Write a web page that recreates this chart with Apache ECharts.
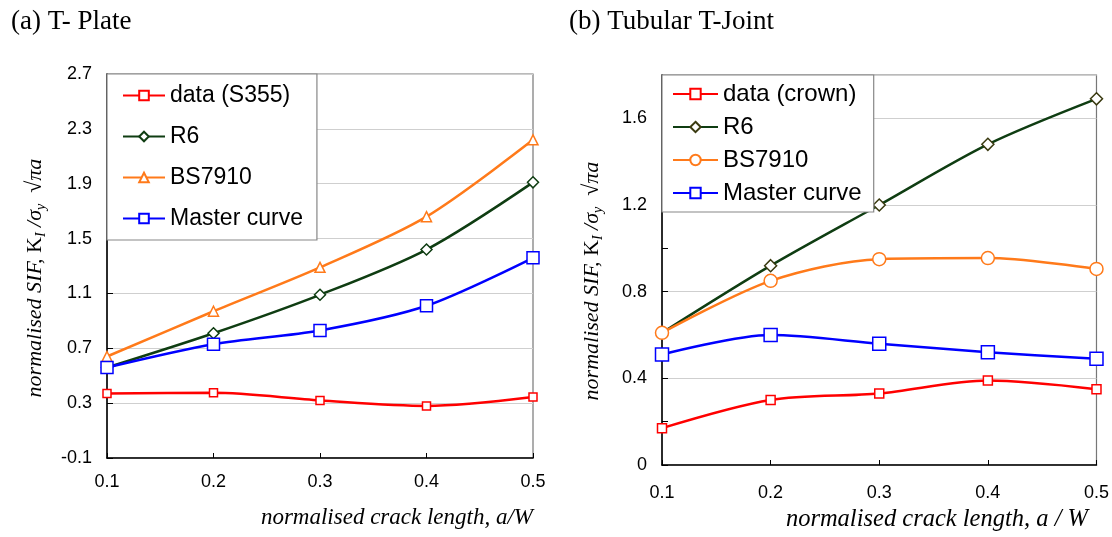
<!DOCTYPE html>
<html>
<head>
<meta charset="utf-8">
<script src="https://cdn.jsdelivr.net/npm/echarts@6/dist/echarts.min.js"></script>
<style>
html,body{margin:0;padding:0;background:#fff;}
#a,#b{position:absolute;top:0;width:556px;height:537px;}
#a{left:0;} #b{left:556px;}
</style>
</head>
<body>
<div id="a"></div>
<div id="b"></div>
<script>
// ---- data ----
const xValues = [0.1, 0.2, 0.3, 0.4, 0.5];

// (a) T- Plate
const plateData   = [0.37, 0.375, 0.32, 0.28, 0.345];
const plateR6     = [0.56, 0.81, 1.09, 1.42, 1.91];
const plateBS7910 = [0.64, 0.97, 1.29, 1.66, 2.22];
const plateMaster = [0.56, 0.73, 0.83, 1.01, 1.36];

// (b) Tubular T-Joint
const jointData   = [0.17, 0.30, 0.33, 0.39, 0.35];
const jointR6     = [0.61, 0.92, 1.20, 1.48, 1.69];
const jointBS7910 = [0.61, 0.85, 0.95, 0.955, 0.905];
const jointMaster = [0.51, 0.60, 0.56, 0.52, 0.49];

const plateNames = ['data (S355)', 'R6', 'BS7910', 'Master curve'];
const jointNames = ['data (crown)', 'R6', 'BS7910', 'Master curve'];

const RED = '#ff0000', GREEN = '#0f3d12', ORANGE = '#ff7a1a', BLUE = '#0000ff';

function pairs(ys) { return xValues.map((x, i) => [x, ys[i]]); }

function mkSeries(name, ys, color, symbol, size, border) {
  return {
    name: name, type: 'line', data: pairs(ys), smooth: 0.3,
    symbol: symbol, symbolSize: size, showAllSymbol: true,
    lineStyle: { color: color, width: 2.5 },
    itemStyle: { color: '#fff', borderColor: border || color, borderWidth: 1.5 },
    emphasis: { disabled: true }, z: 3
  };
}

const SERIF = '"Liberation Serif", "Times New Roman", serif';
const SANS = '"Liberation Sans", Arial, sans-serif';
const NARROW = '"Liberation Sans Narrow", "Arial Narrow", "Liberation Sans", sans-serif';

function yName() {
  return '{i|normalised SIF, }{k|K}{sub|I}{i| /}{s|σ}{sub|y}{i|  √}{s|πa}';
}
function yNameStyle(shift) {
  return {
    color: '#000', fontFamily: SERIF, fontSize: 22, padding: [0, shift, 0, 0],
    rich: {
      i: { fontStyle: 'italic', fontFamily: SERIF, fontSize: 22, color: '#000', lineHeight: 26 },
      k: { fontFamily: SERIF, fontSize: 22, color: '#000', lineHeight: 26 },
      s: { fontStyle: 'italic', fontFamily: SERIF, fontSize: 22, color: '#000', lineHeight: 26 },
      sub: { fontStyle: 'italic', fontFamily: SERIF, fontSize: 14, color: '#000', verticalAlign: 'bottom', lineHeight: 14, padding: [10, 0, 0, 0] }
    }
  };
}

function xAxisCfg(margin) {
  return {
    type: 'value', min: 0.1, max: 0.5, interval: 0.1,
    axisLine: { show: true, onZero: false, lineStyle: { color: '#000', width: 1.5 } },
    axisTick: { show: true, inside: true, length: 5, lineStyle: { color: '#000' } },
    axisLabel: { color: '#000', fontFamily: NARROW, fontSize: 18, margin: margin,
                 formatter: v => v.toFixed(1) },
    splitLine: { show: false }
  };
}

// ---- chart (a) ----
const chartA = echarts.init(document.getElementById('a'), null, { renderer: 'canvas' });
chartA.setOption({
  animation: false,
  backgroundColor: '#fff',
  title: { text: '(a) T- Plate', left: 6, top: 3,
           textStyle: { fontFamily: SERIF, fontSize: 27, fontWeight: 'normal', color: '#000' } },
  grid: { left: 107, top: 74, width: 426, height: 384, show: true, borderColor: '#777', borderWidth: 1.2, backgroundColor: 'transparent' },
  xAxis: xAxisCfg(15),
  yAxis: {
    type: 'value', min: -0.1, max: 2.7, interval: 0.4,
    name: yName(), nameLocation: 'middle', nameRotate: 90, nameGap: 59,
    nameTextStyle: yNameStyle(24),
    axisLine: { show: true, onZero: false, lineStyle: { color: '#000', width: 1.5 } },
    axisTick: { show: true, inside: true, length: 6, lineStyle: { color: '#000' } },
    axisLabel: { color: '#000', fontFamily: SANS, fontSize: 18, margin: 15,
                 formatter: v => v.toFixed(1) },
    splitLine: { show: true, lineStyle: { color: '#cfcfcf', width: 1.2 } }
  },
  legend: {
    data: plateNames, orient: 'vertical', left: 107, top: 74,
    backgroundColor: '#fff', borderColor: '#888', borderWidth: 1.2,
    padding: [10, 14, 10, 15], itemGap: 18, itemWidth: 42, itemHeight: 12,
    textStyle: { fontFamily: SANS, fontSize: 23, color: '#000' },
    selectedMode: false
  },
  graphic: [{
    type: 'text', right: 23, top: 506,
    style: { text: 'normalised crack length, a/W', fontFamily: SERIF, fontStyle: 'italic', fontSize: 23, fill: '#000' }
  }],
  series: [
    mkSeries(plateNames[0], plateData, RED, 'rect', 8),
    mkSeries(plateNames[1], plateR6, GREEN, 'diamond', 11),
    mkSeries(plateNames[2], plateBS7910, ORANGE, 'triangle', 10),
    mkSeries(plateNames[3], plateMaster, BLUE, 'rect', 12)
  ]
});

// ---- chart (b) ----
const chartB = echarts.init(document.getElementById('b'), null, { renderer: 'canvas' });
chartB.setOption({
  animation: false,
  backgroundColor: '#fff',
  title: { text: '(b) Tubular T-Joint', left: 8, top: 3,
           textStyle: { fontFamily: SERIF, fontSize: 27, fontWeight: 'normal', color: '#000' } },
  grid: { left: 106, top: 75, width: 435, height: 390, show: true, borderColor: '#777', borderWidth: 1.2, backgroundColor: 'transparent' },
  xAxis: xAxisCfg(19),
  yAxis: [{
    type: 'value', min: 0, max: 1.8, interval: 0.4,
    name: yName(), nameLocation: 'middle', nameRotate: 90, nameGap: 57,
    nameTextStyle: yNameStyle(22),
    axisLine: { show: true, onZero: false, lineStyle: { color: '#000', width: 1.5 } },
    axisTick: { show: false },
    axisLabel: { color: '#000', fontFamily: SANS, fontSize: 18, margin: 15, showMaxLabel: false,
                 formatter: v => (v === 0 ? '0' : v.toFixed(1)) },
    splitLine: { show: true, lineStyle: { color: '#cfcfcf', width: 1.2 } }
  }, {
    type: 'value', min: 0, max: 1.8, interval: 0.2, position: 'left',
    axisLine: { show: false }, axisLabel: { show: false }, splitLine: { show: false },
    axisTick: { show: true, inside: true, length: 6, lineStyle: { color: '#000' } }
  }],
  legend: {
    data: jointNames, orient: 'vertical', left: 106, top: 75,
    backgroundColor: '#fff', borderColor: '#888', borderWidth: 1.2,
    padding: [7, 12, 7, 10], itemGap: 9, itemWidth: 45, itemHeight: 13,
    textStyle: { fontFamily: SANS, fontSize: 24, color: '#000' },
    selectedMode: false
  },
  graphic: [{
    type: 'text', right: 24, top: 507,
    style: { text: 'normalised crack length, a / W', fontFamily: SERIF, fontStyle: 'italic', fontSize: 24.5, fill: '#000' }
  }],
  series: [
    mkSeries(jointNames[0], jointData, RED, 'rect', 9),
    mkSeries(jointNames[1], jointR6, GREEN, 'diamond', 12, '#3a3a10'),
    mkSeries(jointNames[2], jointBS7910, ORANGE, 'circle', 13),
    mkSeries(jointNames[3], jointMaster, BLUE, 'rect', 13)
  ]
});
</script>
</body>
</html>
